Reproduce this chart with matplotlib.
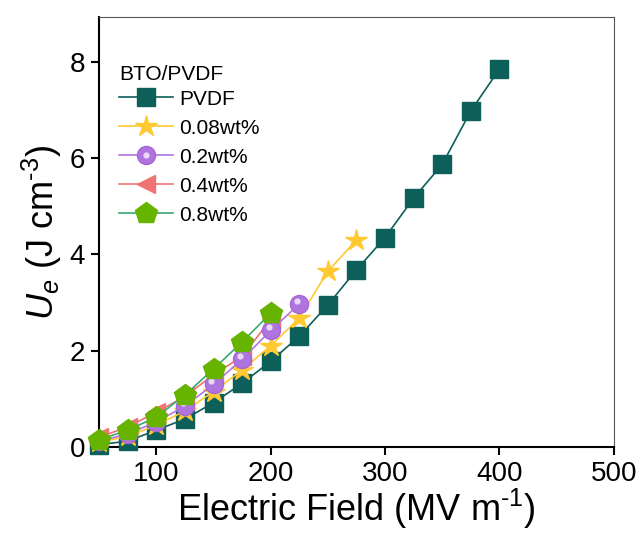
import matplotlib
matplotlib.use("Agg")
import matplotlib.pyplot as plt
import matplotlib.transforms as mtransforms
from matplotlib.legend_handler import HandlerTuple

plt.rcParams['font.family'] = ['Liberation Sans', 'DejaVu Sans']
plt.rcParams['mathtext.fontset'] = 'custom'
plt.rcParams['mathtext.rm'] = 'Liberation Sans'
plt.rcParams['mathtext.it'] = 'Liberation Sans:italic'

x_pvdf = [50, 75, 100, 125, 150, 175, 200, 225, 250, 275, 300, 325, 350, 375, 400]
y_pvdf = [0.05, 0.12, 0.35, 0.58, 0.92, 1.32, 1.78, 2.3, 2.95, 3.68, 4.35, 5.17, 5.87, 6.98, 7.85]
x_008 = [50, 75, 100, 125, 150, 175, 200, 225, 250, 275]
y_008 = [0.1, 0.22, 0.45, 0.75, 1.15, 1.6, 2.1, 2.68, 3.65, 4.3]
x_02 = [50, 75, 100, 125, 150, 175, 200, 225]
y_02 = [0.12, 0.27, 0.52, 0.85, 1.3, 1.82, 2.42, 2.97]
x_04 = [50, 75, 100, 125, 150, 175, 200]
y_04 = [0.2, 0.42, 0.72, 1.05, 1.5, 1.88, 2.65]
x_08 = [50, 75, 100, 125, 150, 175, 200]
y_08 = [0.15, 0.35, 0.62, 1.08, 1.62, 2.18, 2.78]
labels = ['PVDF', '0.08wt%', '0.2wt%', '0.4wt%', '0.8wt%']

fig = plt.figure(figsize=(6.4, 5.34), dpi=100)
ax = fig.add_axes([0.155, 0.163, 0.804, 0.805])

h1, = ax.plot(x_pvdf, y_pvdf, '-s', color='#0d5f5a', ms=13, lw=1.2, zorder=3, clip_on=False)
h2, = ax.plot(x_008, y_008, '-*', color='#ffc933', ms=16, lw=1.2, zorder=4, clip_on=False)
h3, = ax.plot(x_02, y_02, '-o', color='#b376e0', mfc='#b074df', mec='#a466d6', ms=13, lw=1.2, zorder=5, clip_on=False)
hl_tr = mtransforms.offset_copy(ax.transData, fig=fig, x=-1.5, y=2.5, units='points')
h3b, = ax.plot(x_02, y_02, 'o', color='#e8d8f6', mec='none', ms=4.5, zorder=5.1, clip_on=False, transform=hl_tr)
h4, = ax.plot(x_04, y_04, '-<', color='#f07373', ms=13, lw=1.2, zorder=4, clip_on=False)
h5, = ax.plot(x_08, y_08, '-p', color='#3aa873', mfc='#66b300', mec='#66b300', ms=16, lw=1.2, zorder=6, clip_on=False)

ax.set_xlim(50, 500)
ax.set_ylim(0, 8.93)
ax.set_xticks([100, 200, 300, 400, 500])
ax.set_yticks([0, 2, 4, 6, 8])
ax.tick_params(axis='both', labelsize=20, direction='out', length=6, width=1.5, top=False, right=False, pad=4)
for s in ['left', 'bottom']:
    ax.spines[s].set_linewidth(1.5)
for s in ['top', 'right']:
    ax.spines[s].set_linewidth(0.8)
    ax.spines[s].set_color('#555555')

ax.set_xlabel('Electric Field (MV m$^{\u2010 1}$)', fontsize=26, labelpad=0)
ax.set_ylabel('$\\mathit{U}_{e}$ (J cm$^{\u2010 3}$)', fontsize=26, labelpad=4)

leg = ax.legend([h1, h2, (h3, h3b), h4, h5], labels,
                handler_map={tuple: HandlerTuple(ndivide=1, pad=0)},
                loc='upper left', bbox_to_anchor=(0.01, 0.922), frameon=False, fontsize=15,
                title='BTO/PVDF', title_fontsize=15, handlelength=2.6, handletextpad=0.3,
                labelspacing=0.48, borderpad=0.2)
leg._legend_box.align = 'left'
leg._legend_box.sep = 4

fig.savefig('out.png', dpi=100)
